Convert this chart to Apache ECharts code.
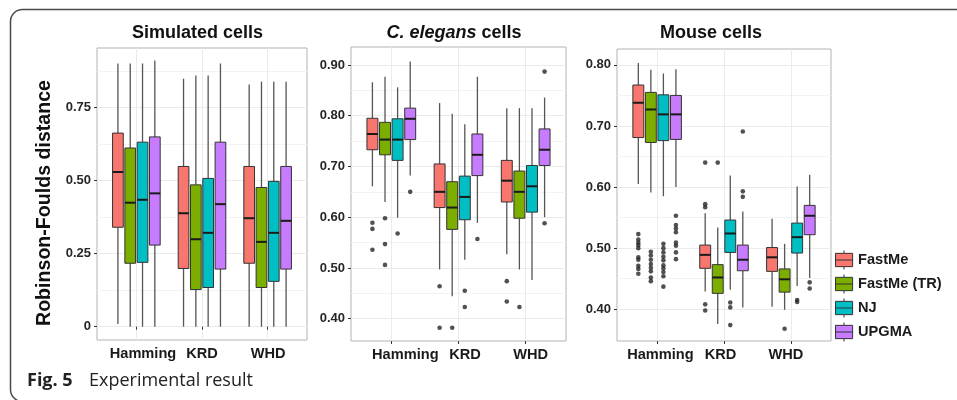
<!DOCTYPE html>
<html><head><meta charset="utf-8">
<script src="https://cdn.jsdelivr.net/npm/echarts@6/dist/echarts.min.js"></script>
<style>html,body{margin:0;padding:0;background:#fff}#c{width:957px;height:400px}</style>
</head><body><div id="c"></div><script>
// ---------- data ----------
const categories = ['Hamming', 'KRD', 'WHD'];
const methods = ['FastMe', 'FastMe (TR)', 'NJ', 'UPGMA'];
const panelTitles = ['Simulated cells', 'C. elegans cells', 'Mouse cells'];

// box stats per category: [lower whisker, Q1, median, Q3, upper whisker]
const simulatedFastMe   = [[0.009, 0.340, 0.529, 0.662, 0.900], [0.000, 0.199, 0.388, 0.548, 0.848], [0.000, 0.217, 0.371, 0.548, 0.828]];
const simulatedFastMeTR = [[0.000, 0.217, 0.424, 0.611, 0.900], [0.000, 0.127, 0.299, 0.485, 0.859], [0.000, 0.134, 0.290, 0.476, 0.838]];
const simulatedNJ       = [[0.000, 0.220, 0.434, 0.631, 0.900], [0.000, 0.134, 0.321, 0.507, 0.859], [0.000, 0.155, 0.321, 0.497, 0.838]];
const simulatedUPGMA    = [[0.000, 0.279, 0.456, 0.649, 0.910], [0.000, 0.197, 0.419, 0.631, 0.900], [0.000, 0.197, 0.362, 0.548, 0.838]];

const elegansFastMe   = [[0.661, 0.733, 0.764, 0.795, 0.866], [0.497, 0.619, 0.650, 0.705, 0.825], [0.527, 0.630, 0.672, 0.712, 0.815]];
const elegansFastMeTR = [[0.630, 0.723, 0.753, 0.787, 0.877], [0.444, 0.576, 0.619, 0.670, 0.804], [0.497, 0.598, 0.650, 0.691, 0.815]];
const elegansNJ       = [[0.599, 0.712, 0.753, 0.794, 0.856], [0.516, 0.595, 0.640, 0.681, 0.783], [0.476, 0.610, 0.661, 0.702, 0.815]];
const elegansUPGMA    = [[0.682, 0.753, 0.794, 0.815, 0.907], [0.589, 0.682, 0.723, 0.764, 0.877], [0.600, 0.702, 0.733, 0.774, 0.836]];

const mouseFastMe   = [[0.605, 0.681, 0.738, 0.767, 0.803], [0.429, 0.467, 0.489, 0.505, 0.557], [0.404, 0.462, 0.485, 0.501, 0.548]];
const mouseFastMeTR = [[0.591, 0.673, 0.727, 0.755, 0.792], [0.376, 0.426, 0.452, 0.473, 0.534], [0.399, 0.428, 0.449, 0.466, 0.507]];
const mouseNJ       = [[0.585, 0.676, 0.719, 0.751, 0.786], [0.432, 0.493, 0.524, 0.546, 0.619], [0.438, 0.492, 0.518, 0.541, 0.601]];
const mouseUPGMA    = [[0.600, 0.678, 0.719, 0.750, 0.793], [0.403, 0.463, 0.481, 0.505, 0.560], [0.451, 0.522, 0.553, 0.570, 0.620]];

// outliers per category
const simulatedOutFastMe = [[], [], []];
const simulatedOutFastMeTR = [[], [], []];
const simulatedOutNJ = [[], [], []];
const simulatedOutUPGMA = [[], [], []];

const elegansOutFastMe   = [[0.589, 0.577, 0.536], [0.464, 0.382], [0.474, 0.434]];
const elegansOutFastMeTR = [[0.598, 0.547, 0.506], [0.382], [0.423]];
const elegansOutNJ       = [[0.568], [0.455, 0.423], []];
const elegansOutUPGMA    = [[0.650], [0.557], [0.887, 0.588]];

const mouseOutFastMe   = [[0.523, 0.514, 0.509, 0.505, 0.500, 0.485, 0.481, 0.471, 0.466, 0.458], [0.640, 0.572, 0.567, 0.408, 0.398], []];
const mouseOutFastMeTR = [[0.494, 0.488, 0.481, 0.474, 0.468, 0.462, 0.452, 0.446], [0.640], [0.368]];
const mouseOutNJ       = [[0.507, 0.500, 0.493, 0.486, 0.480, 0.472, 0.467, 0.461, 0.454, 0.437], [0.411, 0.403, 0.374], [0.415, 0.412]];
const mouseOutUPGMA    = [[0.553, 0.538, 0.532, 0.526, 0.509, 0.504, 0.493, 0.482], [0.691, 0.593, 0.584], [0.444, 0.434]];

// tick labels
const simulatedTicks = [0, 0.25, 0.5, 0.75];
const simulatedTickLabels = ['0', '0.25', '0.50', '0.75'];
const simulatedMinor = [0.125, 0.375, 0.625, 0.875];
const elegansTicks = [0.4, 0.5, 0.6, 0.7, 0.8, 0.9];
const elegansTickLabels = ['0.40', '0.50', '0.60', '0.70', '0.80', '0.90'];
const elegansMinor = [0.45, 0.55, 0.65, 0.75, 0.85];
const mouseTicks = [0.4, 0.5, 0.6, 0.7, 0.8];
const mouseTickLabels = ['0.40', '0.50', '0.60', '0.70', '0.80'];
const mouseMinor = [0.45, 0.55, 0.65, 0.75];

// ---------- layout / style ----------
const colors = ['#F8766D', '#7CAE00', '#00BFC4', '#C77CFF'];
const FONT = '"Liberation Sans", Arial, Helvetica, sans-serif';
const panels = [
  { box: [simulatedFastMe, simulatedFastMeTR, simulatedNJ, simulatedUPGMA],
    out: [simulatedOutFastMe, simulatedOutFastMeTR, simulatedOutNJ, simulatedOutUPGMA],
    ticks: simulatedTicks, labels: simulatedTickLabels, minor: simulatedMinor,
    range: [-0.0455, 0.953], grid: { left: 97, top: 48, width: 210, height: 292 }, labelShift: [6.6, 0, 0.5] },
  { box: [elegansFastMe, elegansFastMeTR, elegansNJ, elegansUPGMA],
    out: [elegansOutFastMe, elegansOutFastMeTR, elegansOutNJ, elegansOutUPGMA],
    ticks: elegansTicks, labels: elegansTickLabels, minor: elegansMinor,
    range: [0.356, 0.9355], grid: { left: 351, top: 47, width: 215, height: 294 }, labelShift: [14, 6.5, 5] },
  { box: [mouseFastMe, mouseFastMeTR, mouseNJ, mouseUPGMA],
    out: [mouseOutFastMe, mouseOutFastMeTR, mouseOutNJ, mouseOutUPGMA],
    ticks: mouseTicks, labels: mouseTickLabels, minor: mouseMinor,
    range: [0.348, 0.826], grid: { left: 617, top: 49, width: 214, height: 292 }, labelShift: [3.3, -3.5, -5] }
];
const PITCH = 0.1875, BOXW = 0.163;

function makeRender(k) {
  return function (params, api) {
    const xc = api.value(0) + (k - 1.5) * PITCH;
    const pLo = api.coord([xc, api.value(1)]);
    const pQ1 = api.coord([xc, api.value(2)]);
    const pMed = api.coord([xc, api.value(3)]);
    const pQ3 = api.coord([xc, api.value(4)]);
    const pHi = api.coord([xc, api.value(5)]);
    const xl = api.coord([xc - BOXW / 2, api.value(2)])[0];
    const xr = api.coord([xc + BOXW / 2, api.value(2)])[0];
    const cx = pLo[0];
    const wh = { stroke: '#555555', lineWidth: 1.3 };
    return { type: 'group', children: [
      { type: 'line', shape: { x1: cx, y1: pHi[1], x2: cx, y2: pQ3[1] }, style: wh },
      { type: 'line', shape: { x1: cx, y1: pQ1[1], x2: cx, y2: pLo[1] }, style: wh },
      { type: 'rect', shape: { x: xl, y: pQ3[1], width: xr - xl, height: pQ1[1] - pQ3[1] },
        style: { fill: colors[k], stroke: '#333333', lineWidth: 1 } },
      { type: 'line', shape: { x1: xl, y1: pMed[1], x2: xr, y2: pMed[1] }, style: { stroke: '#1a1a1a', lineWidth: 2 } }
    ] };
  };
}

const grids = [], xAxes = [], yAxes = [], series = [];
panels.forEach((p, i) => {
  grids.push(Object.assign({ show: true, borderColor: '#b3b3b3', borderWidth: 1, backgroundColor: 'transparent' }, p.grid));
  xAxes.push({
    type: 'value', gridIndex: i, min: 0.4, max: 3.6,
    axisLine: { show: false },
    axisTick: { show: true, customValues: [1, 2, 3], length: 3, lineStyle: { color: '#333' } },
    axisLabel: {
      customValues: [1, 2, 3], margin: 6,
      formatter: (v) => {
        const idx = Math.round(v) - 1;
        const d = p.labelShift[idx];
        const key = d >= 0 ? 'r' + idx : 'l' + idx;
        return '{' + key + '|' + categories[idx] + '}';
      },
      rich: (() => {
        const r = {};
        p.labelShift.forEach((d, idx) => {
          const base = { fontFamily: FONT, fontWeight: 'bold', fontSize: 14.6, color: '#1a1a1a' };
          if (d >= 0) r['r' + idx] = Object.assign({ padding: [0, 0, 0, 2 * d] }, base);
          else r['l' + idx] = Object.assign({ padding: [0, -2 * d, 0, 0] }, base);
        });
        return r;
      })()
    },
    splitLine: { show: true, lineStyle: { color: '#ebebeb', width: 1 } }
  });
  yAxes.push({
    type: 'value', gridIndex: i, min: p.range[0], max: p.range[1],
    axisLine: { show: false },
    axisTick: { show: true, customValues: p.ticks, length: 3, lineStyle: { color: '#333' } },
    axisLabel: {
      customValues: p.ticks, margin: 6,
      fontFamily: FONT, fontWeight: 'bold', fontSize: 13, color: '#262626',
      formatter: (v) => {
        let best = 0;
        p.ticks.forEach((t, j) => { if (Math.abs(t - v) < Math.abs(p.ticks[best] - v)) best = j; });
        return p.labels[best];
      }
    },
    splitLine: { show: true, lineStyle: { color: '#ebebeb', width: 1 } }
  });
});
panels.forEach((p, i) => {
  yAxes.push({
    type: 'value', gridIndex: i, min: p.range[0], max: p.range[1],
    axisLine: { show: false },
    axisTick: { show: false, customValues: p.minor },
    axisLabel: { show: false, customValues: p.minor },
    splitLine: { show: true, lineStyle: { color: '#f3f3f3', width: 1 } }
  });
});

panels.forEach((p, i) => {
  methods.forEach((m, k) => {
    series.push({
      type: 'custom', name: m, xAxisIndex: i, yAxisIndex: i,
      itemStyle: { color: colors[k] },
      renderItem: makeRender(k),
      encode: { x: 0, y: [1, 2, 3, 4, 5] },
      data: p.box[k].map((s, c) => [c + 1].concat(s)),
      z: 3, silent: true
    });
    const pts = [];
    p.out[k].forEach((vals, c) => vals.forEach(v => pts.push([c + 1 + (k - 1.5) * PITCH, v])));
    series.push({
      type: 'scatter', name: m + ' outliers', xAxisIndex: i, yAxisIndex: i,
      symbol: 'circle', symbolSize: 4.6, itemStyle: { color: '#262626' },
      data: pts, z: 4, silent: true
    });
  });
});

const legendIcon = 'path://M9,0L9,3M0,3L18,3L18,17L0,17ZM0,10L18,10M9,17L9,20';
const option = {
  animation: false,
  backgroundColor: '#ffffff',
  grid: grids, xAxis: xAxes, yAxis: yAxes, series: series,
  legend: {
    orient: 'vertical', left: 835, top: 250, padding: 0, itemGap: 4, itemWidth: 18, itemHeight: 19,
    textStyle: { fontFamily: FONT, fontWeight: 'bold', fontSize: 14.6, color: '#1a1a1a' },
    selectedMode: false,
    data: methods.map((m, k) => ({ name: m, icon: legendIcon,
      itemStyle: { color: colors[k], borderColor: '#333333', borderWidth: 1 } }))
  },
  graphic: [
    { type: 'rect', shape: { x: 10.5, y: 9.5, width: 980, height: 392, r: 12 },
      style: { fill: 'none', stroke: '#4a4a4a', lineWidth: 1.5 }, z: 0, silent: true },
    { type: 'text', x: 197.5, y: 33.5, style: { text: panelTitles[0], textAlign: 'center', textVerticalAlign: 'middle',
      font: 'bold 18px ' + FONT, fill: '#111' } },
    { type: 'text', x: 454, y: 33.5, style: { text: '{i|C. elegans} cells', textAlign: 'center', textVerticalAlign: 'middle',
      font: 'bold 18px ' + FONT, fill: '#111',
      rich: { i: { fontStyle: 'italic', fontWeight: 'bold', fontSize: 18, fontFamily: FONT, fill: '#111' } } } },
    { type: 'text', x: 711, y: 33.5, style: { text: panelTitles[2], textAlign: 'center', textVerticalAlign: 'middle',
      font: 'bold 18px ' + FONT, fill: '#111' } },
    { type: 'text', x: 45, y: 203, rotation: Math.PI / 2,
      style: { text: 'Robinson-Foulds distance', textAlign: 'center', textVerticalAlign: 'middle',
      font: 'bold 19.6px ' + FONT, fill: '#111' } },
    { type: 'text', x: 27, y: 381, style: { text: 'Fig. 5', textVerticalAlign: 'middle',
      font: 'bold 18px "Open Sans", "Noto Sans", sans-serif', fill: '#222' } },
    { type: 'text', x: 89, y: 381, style: { text: 'Experimental result', textVerticalAlign: 'middle',
      font: '18px "Open Sans", "Noto Sans", sans-serif', fill: '#222' } }
  ]
};
const chart = echarts.init(document.getElementById('c'), null, { renderer: 'canvas' });
chart.setOption(option);
</script></body></html>
